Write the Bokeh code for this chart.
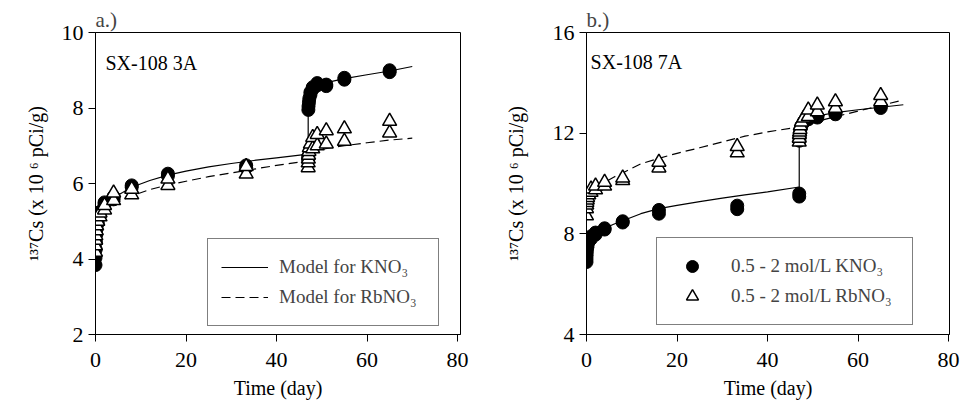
from bokeh.plotting import figure
from bokeh.models import Range1d, FixedTicker, Legend, LegendItem, Label
from bokeh.layouts import row
from bokeh.embed import file_html
from bokeh.resources import INLINE

FONT = "Liberation Serif"

# ---------------- Panel a (SX-108 3A) ----------------
a_x_ticks = [0, 20, 40, 60, 80]
a_y_ticks = [2, 4, 6, 8, 10]

a_k_t = [0, 0, 0.04, 0.08, 0.17, 0.25, 0.5, 1, 1, 2, 2, 4, 4, 8, 8, 16, 16, 33.3, 33.3,
         47, 47, 47.04, 47.08, 47.17, 47.25, 47.5, 47.5, 48, 48, 49, 49, 51, 51, 55, 55, 65, 65]
a_k_y = [3.84, 4.03, 4.25, 4.45, 4.65, 4.8, 4.95, 5.15, 5.25, 5.45, 5.5, 5.58, 5.65, 5.9, 5.95,
         6.2, 6.26, 6.42, 6.48, 6.62, 6.7, 7.95, 8.05, 8.15, 8.25, 8.35, 8.42, 8.5, 8.55,
         8.6, 8.66, 8.58, 8.62, 8.75, 8.8, 8.95, 9.0]

a_r_t = [0, 0, 0.04, 0.08, 0.17, 0.25, 0.5, 1, 1, 2, 2, 4, 4, 8, 8, 16, 16, 33.3, 33.3,
         47, 47, 47.04, 47.08, 47.17, 47.25, 47.5, 48, 48, 49, 49, 51, 51, 55, 55, 65, 65]
a_r_y = [4.18, 4.35, 4.5, 4.62, 4.75, 4.88, 5.0, 5.12, 5.22, 5.3, 5.42, 5.55, 5.75, 5.7, 5.85,
         5.95, 6.12, 6.25, 6.45, 6.42, 6.55, 6.65, 6.75, 6.85, 6.95, 7.05, 6.92, 7.22,
         7.0, 7.3, 7.05, 7.4, 7.12, 7.45, 7.34, 7.65]

a_mk_t = [0, 0.05, 0.1, 0.25, 0.5, 1, 2, 3, 4, 6, 8, 12, 16, 20, 25, 30, 35, 40, 47,
          47, 47.1, 47.25, 47.5, 48, 49, 50, 52, 55, 60, 65, 70]
a_mk_y = [3.8, 4.4, 4.7, 5.0, 5.15, 5.3, 5.45, 5.55, 5.63, 5.76, 5.9, 6.08, 6.22, 6.33, 6.44,
          6.53, 6.61, 6.68, 6.78, 7.85, 8.05, 8.2, 8.35, 8.5, 8.6, 8.65, 8.7, 8.78, 8.88,
          8.98, 9.1]

a_mr_t = [0, 0.05, 0.1, 0.25, 0.5, 1, 2, 3, 4, 6, 8, 12, 16, 20, 25, 30, 35, 40, 47,
          47, 47.25, 47.5, 48, 49, 50, 52, 55, 60, 65, 70]
a_mr_y = [4.1, 4.5, 4.7, 4.9, 5.0, 5.1, 5.25, 5.35, 5.43, 5.57, 5.67, 5.84, 5.96, 6.06, 6.18,
          6.28, 6.38, 6.48, 6.6, 6.7, 6.75, 6.78, 6.82, 6.86, 6.9, 6.95, 7.0, 7.08, 7.15, 7.2]

# ---------------- Panel b (SX-108 7A) ----------------
b_x_ticks = [0, 20, 40, 60, 80]
b_y_ticks = [4, 8, 12, 16]

b_k_t = [0, 0, 0.04, 0.08, 0.17, 0.25, 0.5, 1, 1, 2, 2, 4, 4, 8, 8, 16, 16, 33.3, 33.3,
         47, 47, 47.04, 47.08, 47.17, 47.25, 47.5, 48, 49, 49, 51, 51, 55, 55, 65, 65]
b_k_y = [6.88, 7.0, 7.15, 7.3, 7.45, 7.55, 7.7, 7.8, 7.9, 7.97, 8.05, 8.17, 8.22, 8.45, 8.5,
         8.8, 8.95, 8.98, 9.12, 9.48, 9.6, 11.7, 11.85, 12.0, 12.15, 12.3, 12.45, 12.55,
         12.62, 12.62, 12.68, 12.75, 12.8, 13.0, 13.05]

b_r_t = [0, 0, 0.04, 0.08, 0.17, 0.25, 0.5, 1, 1, 2, 2, 4, 4, 8, 8, 16, 16, 33.3, 33.3,
         47, 47, 47.04, 47.08, 47.17, 47.25, 47.5, 48, 49, 49, 51, 51, 55, 55, 65, 65]
b_r_y = [8.72, 9.0, 9.15, 9.25, 9.35, 9.45, 9.55, 9.65, 9.78, 9.75, 9.9, 9.9, 10.05, 10.12,
         10.22, 10.62, 10.85, 11.22, 11.47, 11.65, 11.8, 11.95, 12.05, 12.15, 12.3, 12.45,
         12.6, 12.66, 12.92, 12.85, 13.12, 12.99, 13.25, 13.25, 13.5]

b_mk_t = [0, 0.05, 0.1, 0.25, 0.5, 1, 2, 3, 4, 6, 8, 12, 16, 20, 25, 30, 35, 40, 47,
          47, 47.1, 47.25, 47.5, 48, 49, 50, 52, 55, 60, 65, 70]
b_mk_y = [6.9, 7.1, 7.25, 7.45, 7.6, 7.8, 8.0, 8.12, 8.22, 8.38, 8.52, 8.8, 9.0, 9.13, 9.28,
          9.42, 9.55, 9.67, 9.86, 11.7, 11.95, 12.15, 12.3, 12.45, 12.58, 12.65, 12.72,
          12.82, 12.93, 13.03, 13.13]

b_mr_t = [0, 0.05, 0.1, 0.25, 0.5, 1, 2, 3, 4, 6, 8, 12, 16, 20, 25, 30, 35, 40, 47,
          48, 50, 52, 55, 60, 65, 70]
b_mr_y = [8.9, 9.15, 9.3, 9.5, 9.65, 9.8, 9.95, 10.0, 10.05, 10.25, 10.42, 10.78, 11.0, 11.2,
          11.42, 11.65, 11.88, 12.05, 12.25, 12.3, 12.42, 12.52, 12.65, 12.88, 13.1, 13.32]


def style(p, xticks, yticks, ylab_standoff):
    p.xgrid.visible = False
    p.ygrid.visible = False
    p.outline_line_color = "black"
    p.outline_line_width = 1
    p.xaxis.ticker = FixedTicker(ticks=xticks)
    p.yaxis.ticker = FixedTicker(ticks=yticks)
    for ax in (p.xaxis, p.yaxis):
        ax.axis_line_color = "black"
        ax.major_tick_line_color = "black"
        ax.major_tick_in = 0
        ax.major_tick_out = 7
        ax.minor_tick_in = 0
        ax.minor_tick_out = 0
        ax.major_label_text_font = FONT
        ax.major_label_text_font_size = "22px"
        ax.major_label_text_color = "black"
        ax.axis_label_text_font = FONT
        ax.axis_label_text_font_size = "20px"
        ax.axis_label_text_font_style = "normal"
        ax.axis_label_text_color = "black"
    p.xaxis.axis_label = "Time (day)"
    p.xaxis.major_label_standoff = 11
    p.xaxis.axis_label_standoff = 7
    p.yaxis.axis_label = "\u00b9\u00b3\u2077Cs (x 10 \u2076 pCi/g)"
    p.yaxis.major_label_standoff = 5
    p.yaxis.axis_label_standoff = ylab_standoff
    p.title.text_font = FONT
    p.title.text_font_size = "21px"
    p.title.text_font_style = "normal"
    p.title.align = "left"
    p.title.standoff = 2


# ---- figure a
pa = figure(width=480, height=402, output_backend="svg", toolbar_location=None,
            x_range=Range1d(0, 80.66), y_range=Range1d(2, 10),
            min_border_left=95, min_border_right=20, min_border_top=29, min_border_bottom=68,
            title="a.)")
style(pa, a_x_ticks, a_y_ticks, 12)
la = pa.line(a_mk_t, a_mk_y, line_color="black", line_width=1.2)
lb = pa.line(a_mr_t, a_mr_y, line_color="black", line_width=1.2, line_dash="9 5")
pa.scatter(a_k_t, a_k_y, marker="circle", size=13, fill_color="black", line_color="black")
pa.scatter(a_r_t, a_r_y, marker="triangle", size=14, fill_color="white", line_color="black",
           line_width=1.5)
pa.add_layout(Label(x=2.2, y=9.19, text="SX-108 3A", text_font=FONT, text_font_size="20px",
                    text_baseline="alphabetic", text_color="black"))
leg_a = Legend(items=[LegendItem(label="Model for KNO\u2083", renderers=[la]),
                      LegendItem(label="Model for RbNO\u2083", renderers=[lb])],
               location=(112, 8), glyph_width=47, glyph_height=30, spacing=0, padding=13,
               label_standoff=11, label_width=146, label_text_font=FONT,
               label_text_font_size="19px", border_line_color="black", border_line_width=1,
               background_fill_alpha=1)
pa.add_layout(leg_a)

# ---- figure b
pb = figure(width=480, height=402, output_backend="svg", toolbar_location=None,
            x_range=Range1d(0, 80.2), y_range=Range1d(4, 16),
            min_border_left=106, min_border_right=11, min_border_top=32, min_border_bottom=66,
            title="b.)")
style(pb, b_x_ticks, b_y_ticks, 23)
pb.line(b_mk_t, b_mk_y, line_color="black", line_width=1.2)
pb.line(b_mr_t, b_mr_y, line_color="black", line_width=1.2, line_dash="9 5")
ca = pb.scatter(b_k_t, b_k_y, marker="circle", size=13, fill_color="black", line_color="black")
ta = pb.scatter(b_r_t, b_r_y, marker="triangle", size=14, fill_color="white", line_color="black",
                line_width=1.5)
pb.add_layout(Label(x=0.9, y=14.82, text="SX-108 7A", text_font=FONT, text_font_size="20px",
                    text_baseline="alphabetic", text_color="black"))
leg_b = Legend(items=[LegendItem(label="0.5 - 2 mol/L KNO\u2083", renderers=[ca]),
                      LegendItem(label="0.5 - 2 mol/L RbNO\u2083", renderers=[ta])],
               location=(70, 9), glyph_width=44, glyph_height=30, spacing=0, padding=13,
               label_standoff=17, label_width=168, label_text_font=FONT,
               label_text_font_size="19px", border_line_color="black", border_line_width=1,
               background_fill_alpha=1)
pb.add_layout(leg_b)

layout = row(pa, pb)
open("out.html", "w").write(file_html(layout, INLINE))
